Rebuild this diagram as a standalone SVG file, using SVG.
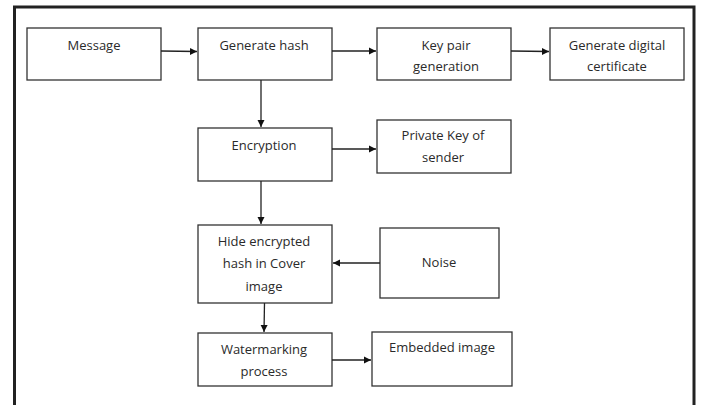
<svg xmlns="http://www.w3.org/2000/svg" width="701" height="405" viewBox="0 0 701 405">
<style>
.box{fill:#fff;stroke:#333;stroke-width:1.3}
.t{font-family:"Open Sans","Liberation Sans",sans-serif;font-size:13px;fill:#2a2a2a;text-anchor:middle}
.c{stroke:#222;stroke-width:1.3;fill:none}
</style>
<defs>
<marker id="ah" markerWidth="8" markerHeight="8" refX="7" refY="4" orient="auto" markerUnits="userSpaceOnUse">
<path d="M0,0.5 L7,4 L0,7.5 Z" fill="#111"/>
</marker>
</defs>
<rect width="701" height="405" fill="#fff"/>
<path d="M14.5,405 V7 H694 V405" fill="none" stroke="#222" stroke-width="3"/>
<g id="message"><rect class="box" x="27" y="28" width="134" height="52"/><text class="t" x="94" y="50">Message</text></g>
<g id="generate-hash"><rect class="box" x="198" y="28" width="134" height="52"/><text class="t" x="264" y="50">Generate hash</text></g>
<g id="key-pair"><rect class="box" x="377" y="28" width="134" height="52"/><text class="t" x="446" y="50">Key pair</text><text class="t" x="446" y="71">generation</text></g>
<g id="certificate"><rect class="box" x="550" y="28" width="134" height="52"/><text class="t" x="617" y="50">Generate digital</text><text class="t" x="617" y="71">certificate</text></g>
<g id="encryption"><rect class="box" x="198" y="128" width="134" height="53"/><text class="t" x="264" y="150">Encryption</text></g>
<g id="private-key"><rect class="box" x="377" y="120" width="134" height="53"/><text class="t" x="443" y="140">Private Key of</text><text class="t" x="443" y="162">sender</text></g>
<g id="hide"><rect class="box" x="198" y="225" width="134" height="78"/><text class="t" x="264" y="246">Hide encrypted</text><text class="t" x="264" y="268">hash in Cover</text><text class="t" x="264" y="291">image</text></g>
<g id="noise"><rect class="box" x="380" y="228" width="119" height="70"/><text class="t" x="439" y="267">Noise</text></g>
<g id="watermarking"><rect class="box" x="198" y="333" width="134" height="53"/><text class="t" x="264" y="354">Watermarking</text><text class="t" x="264" y="376">process</text></g>
<g id="embedded"><rect class="box" x="372" y="332" width="140" height="54"/><text class="t" x="442" y="352">Embedded image</text></g>
<g id="connectors">
<line class="c" x1="161" y1="51" x2="197" y2="51.5" marker-end="url(#ah)"/>
<line class="c" x1="332" y1="51" x2="376" y2="51" marker-end="url(#ah)"/>
<line class="c" x1="511" y1="51" x2="549" y2="51.5" marker-end="url(#ah)"/>
<line class="c" x1="261" y1="80" x2="261" y2="127" marker-end="url(#ah)"/>
<line class="c" x1="332" y1="149" x2="376" y2="149" marker-end="url(#ah)"/>
<line class="c" x1="261" y1="181" x2="261" y2="224" marker-end="url(#ah)"/>
<line class="c" x1="380" y1="263" x2="333" y2="263" marker-end="url(#ah)"/>
<line class="c" x1="264.5" y1="303" x2="264" y2="332" marker-end="url(#ah)"/>
<line class="c" x1="332" y1="360" x2="371" y2="360" marker-end="url(#ah)"/>
</g>
</svg>
